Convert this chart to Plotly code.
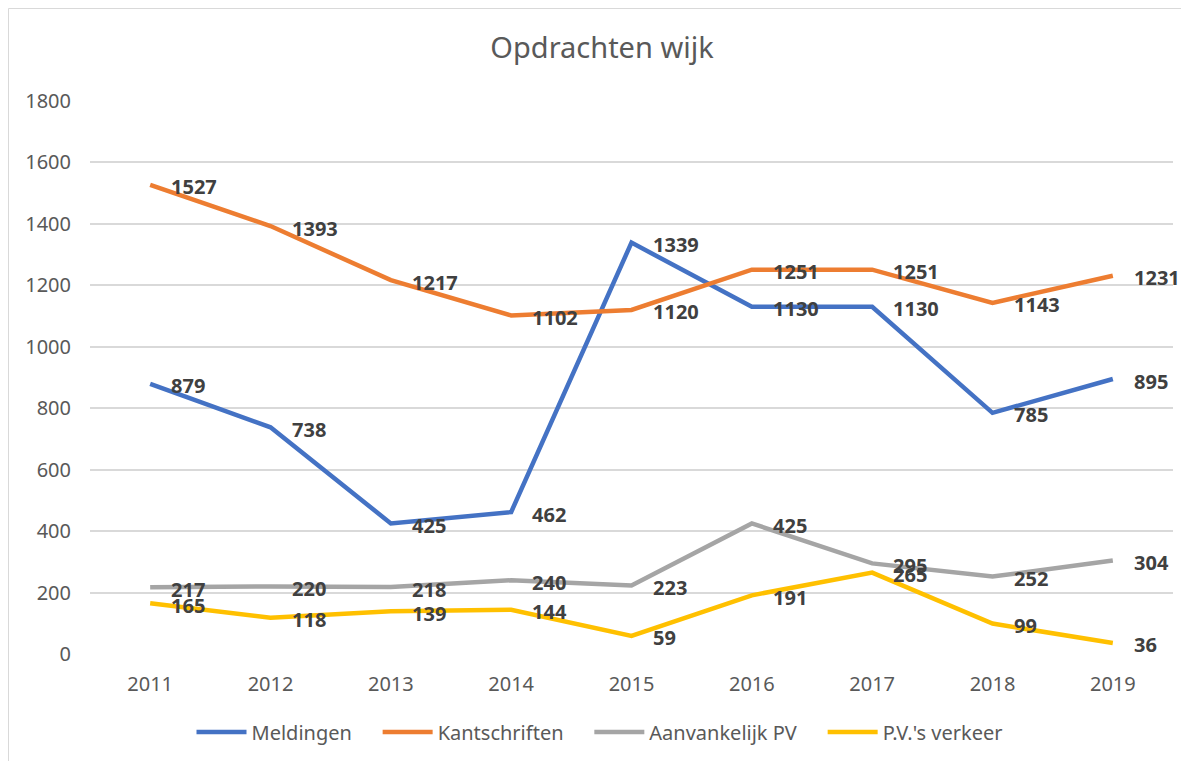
import plotly.graph_objects as go

years = ["2011", "2012", "2013", "2014", "2015", "2016", "2017", "2018", "2019"]
meldingen = [879, 738, 425, 462, 1339, 1130, 1130, 785, 895]
kantschriften = [1527, 1393, 1217, 1102, 1120, 1251, 1251, 1143, 1231]
aanvankelijk_pv = [217, 220, 218, 240, 223, 425, 295, 252, 304]
pv_verkeer = [165, 118, 139, 144, 59, 191, 265, 99, 36]

series = [
    ("Meldingen", meldingen, "#4472C4"),
    ("Kantschriften", kantschriften, "#ED7D31"),
    ("Aanvankelijk PV", aanvankelijk_pv, "#A5A5A5"),
    ("P.V.'s verkeer", pv_verkeer, "#FFC000"),
]

# page body has an 8px margin: figure coords = screen coords - 8
W, H = 1181, 753
ML, MR, MT, MB = 82, 16, 93, 107
PW = W - ML - MR
PH = H - MT - MB

FONT = "Noto Sans, Open Sans, sans-serif"
PAD = "\u00a0\u00a0\u00a0\u00a0"

fig = go.Figure()
annotations = []
for name, vals, color in series:
    fig.add_trace(go.Scatter(
        x=years, y=vals, name=name + PAD, mode="lines",
        line=dict(color=color, width=4.5),
        hovertemplate=name + ": %{y}<extra></extra>",
    ))
    for i, yv in enumerate(vals):
        annotations.append(dict(
            x=i, y=yv, xref="x", yref="y", text=f"<b>{yv}</b>",
            showarrow=False, xanchor="left", yanchor="middle",
            xshift=19, yshift=-2,
            font=dict(family=FONT, size=20, color="#404040"),
        ))

def px_to_paper_x(px):
    return (px - ML) / PW

def px_to_paper_y(py):
    return (H - MB - py) / PH

shapes = [
    dict(type="line", xref="paper", yref="paper",
         x0=px_to_paper_x(0.5), x1=px_to_paper_x(W + 5),
         y0=px_to_paper_y(0.5), y1=px_to_paper_y(0.5),
         line=dict(color="#d9d9d9", width=1)),
    dict(type="line", xref="paper", yref="paper",
         x0=px_to_paper_x(0.5), x1=px_to_paper_x(0.5),
         y0=px_to_paper_y(0.5), y1=px_to_paper_y(H + 5),
         line=dict(color="#d9d9d9", width=1)),
]

fig.update_layout(
    width=W, height=H,
    margin=dict(l=ML, r=MR, t=MT, b=MB, autoexpand=False),
    paper_bgcolor="white", plot_bgcolor="white",
    title=dict(text="Opdrachten wijk", x=594 / W, xanchor="center",
               y=1 - 40 / H, yanchor="middle",
               font=dict(family=FONT, size=29, color="#595959")),
    xaxis=dict(type="category", range=[-0.5, 8.5], showgrid=False,
               showline=False, zeroline=False, ticks="",
               tickfont=dict(family=FONT, size=20, color="#595959"),
               ticklabelstandoff=16),
    yaxis=dict(range=[0, 1800], dtick=200, showgrid=True,
               gridcolor="#d9d9d9", gridwidth=1.5, zeroline=False,
               showline=False, ticks="",
               tickfont=dict(family=FONT, size=20, color="#595959"),
               ticklabelstandoff=18),
    legend=dict(orientation="h", x=px_to_paper_x(602), xanchor="center",
                y=px_to_paper_y(724), yanchor="middle",
                font=dict(family=FONT, size=20, color="#595959"),
                itemwidth=50, bgcolor="rgba(0,0,0,0)"),
    annotations=annotations,
    shapes=shapes,
    showlegend=True,
)

fig.write_html("out.html")
